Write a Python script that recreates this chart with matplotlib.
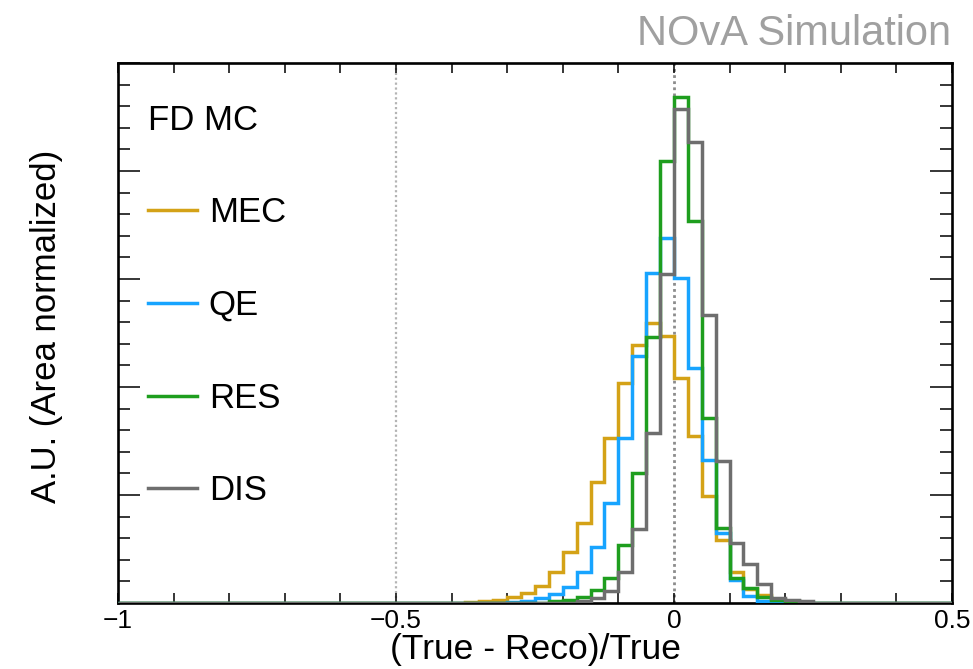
import numpy as np
import matplotlib
matplotlib.use("Agg")
import matplotlib.pyplot as plt
from matplotlib.ticker import MultipleLocator, FixedLocator

plt.rcParams['font.family'] = ['Liberation Sans', 'DejaVu Sans']

# ---------------- data ----------------
bin_width = 0.025
x_min, x_max = -1.0, 0.5

series_names = ["MEC", "QE", "RES", "DIS"]
series_colors = ["#D4A217", "#17A4FF", "#1E9E1E", "#6E6E6E"]

# first bin lower edge of each listed series, then bin contents (area normalized)
mec_start = -0.375
mec = [0.0003, 0.0007, 0.0014, 0.0027, 0.0048, 0.0080, 0.0145, 0.0238, 0.0369,
       0.0562, 0.0766, 0.1017, 0.1195, 0.1295, 0.1238, 0.1043, 0.0775, 0.0496,
       0.0292, 0.0145, 0.0065, 0.0037, 0.0014, 0.0007]

qe_start = -0.300
qe = [0.0005, 0.0011, 0.0022, 0.0041, 0.0076, 0.0145, 0.0261, 0.0462, 0.0763,
      0.1144, 0.1527, 0.1689, 0.1506, 0.1090, 0.0662, 0.0323, 0.0107, 0.0034,
      0.0010]

res_start = -0.225
res = [0.0007, 0.0014, 0.0029, 0.0060, 0.0115, 0.0269, 0.0601, 0.1233, 0.2047,
       0.2344, 0.1770, 0.0855, 0.0346, 0.0115, 0.0068, 0.0028, 0.0014, 0.0007]

dis_start = -0.175
dis = [0.0010, 0.0023, 0.0057, 0.0145, 0.0343, 0.0787, 0.1522, 0.2287, 0.2133,
       0.1334, 0.0658, 0.0277, 0.0179, 0.0087, 0.0025, 0.0014, 0.0007]

x_tick_values = [-1.0, -0.5, 0.0, 0.5]
x_tick_labels = ["\u22121", "\u22120.5", "0", "0.5"]
ref_lines = [-0.5, 0.0]

# ---------------- figure ----------------
n_bins = int(round((x_max - x_min) / bin_width))
edges = x_min + bin_width * np.arange(n_bins + 1)

def full_hist(start, vals):
    h = np.zeros(n_bins)
    i0 = int(round((start - x_min) / bin_width))
    h[i0:i0 + len(vals)] = vals
    return h

fig = plt.figure(figsize=(9.73, 6.69), dpi=100)
ax = fig.add_axes([118 / 973, 1 - 603 / 669, (952 - 118) / 973, (603 - 63) / 669])

ax.axvline(ref_lines[0], color="#b4b4b4", lw=1.6, ls=(0, (1, 1.2)), zorder=1)
ax.axvline(ref_lines[1], color="#8c8c8c", lw=2.0, ls=(0, (1, 1.2)), zorder=1)

all_series = [(mec_start, mec), (qe_start, qe), (res_start, res), (dis_start, dis)]
handles = []
for k, ((s, v), name, col) in enumerate(zip(all_series, series_names, series_colors)):
    ax.stairs(full_hist(s, v), edges, color=col, lw=2.5, label=name,
              zorder=2 + k, baseline=None)
    handles.append(plt.Line2D([], [], color=col, lw=2.5))

ax.set_xlim(x_min, x_max)
ax.set_ylim(0, 0.25)

ax.xaxis.set_major_locator(FixedLocator(x_tick_values))
ax.set_xticklabels(x_tick_labels)
ax.xaxis.set_minor_locator(MultipleLocator(0.1))
ax.yaxis.set_major_locator(MultipleLocator(0.05))
ax.yaxis.set_minor_locator(MultipleLocator(0.01))

ax.tick_params(axis="both", which="both", direction="in", top=True, right=True,
               width=1.1, colors="black")
ax.tick_params(axis="x", which="both", length=7, labelsize=19, pad=4)
ax.tick_params(axis="y", which="major", length=16)
ax.tick_params(axis="y", which="minor", length=8.5)
ax.tick_params(axis="y", labelleft=False)

for sp in ax.spines.values():
    sp.set_linewidth(1.9)

ax.set_xlabel("(True - Reco)/True", fontsize=25.5)
ax.xaxis.set_label_coords(0.501, -0.056)
ax.set_ylabel("A.U. (Area normalized)", fontsize=25)
ax.yaxis.set_label_coords(-0.066, 0.513)

leg = ax.legend(handles, series_names, title="FD MC", loc="upper left",
                bbox_to_anchor=(0.036, 0.925), frameon=False, fontsize=25,
                title_fontsize=25, handlelength=1.4, handletextpad=0.35,
                labelspacing=1.72, borderpad=0, borderaxespad=0)
leg._legend_box.align = "left"

fig.text(0.978, 0.933, "NOvA Simulation", ha="right", va="baseline",
         fontsize=30, color="#a0a0a0")

fig.savefig("out.png", dpi=100)
